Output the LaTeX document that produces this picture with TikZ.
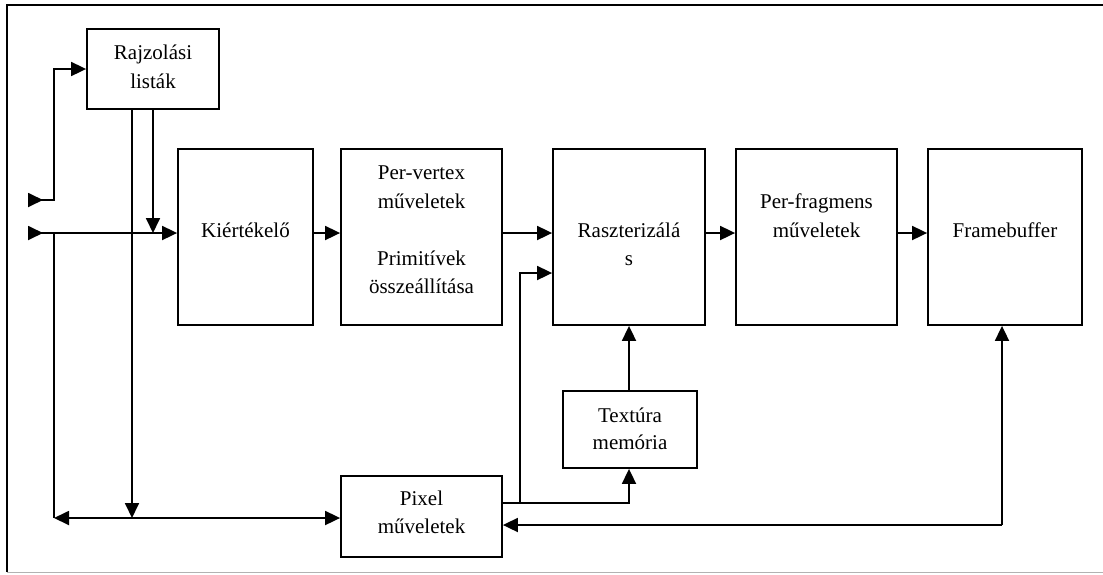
\documentclass[tikz,border=0pt]{standalone}
\usepackage{fontspec}
\setmainfont{Liberation Serif}
\usetikzlibrary{arrows.meta}
\begin{document}
\begin{tikzpicture}[x=1pt,y=-1pt,
  box/.style={draw, line width=1.8pt, inner sep=0pt},
  lbl/.style={inner sep=0pt, anchor=base, font=\fontsize{21}{28.5}\selectfont},
  conn/.style={line width=1.8pt},
  arr/.style={conn, -{Triangle[length=15pt,width=14pt]}},
  dblarr/.style={conn, {Triangle[length=15pt,width=14pt]}-{Triangle[length=15pt,width=14pt]}}]
\useasboundingbox (0,0) rectangle (1103,574);

% page frame
\draw[line width=1.8pt] (1103,5) -- (7,5) -- (7,572);
\draw[black!30, line width=1pt] (7,572) -- (1103,572);

% blocks
\node[box, minimum width=132pt, minimum height=80pt]  (rl)    at (153,69)      {};
\node[box, minimum width=135pt, minimum height=176pt] (kiert) at (245.5,237)   {};
\node[box, minimum width=161pt, minimum height=176pt] (pv)    at (421.5,237)   {};
\node[box, minimum width=152pt, minimum height=176pt] (rasz)  at (629,237)     {};
\node[box, minimum width=161pt, minimum height=176pt] (pf)    at (816.5,237)   {};
\node[box, minimum width=154pt, minimum height=176pt] (fb)    at (1005,237)    {};
\node[box, minimum width=134pt, minimum height=77pt]  (tex)   at (630,429.5)   {};
\node[box, minimum width=161pt, minimum height=81pt]  (pix)   at (421.5,516.5) {};

% block texts
\node[lbl] (rl-a) at (153,59) {Rajzolási};
\node[lbl] (rl-b) at (153,88) {listák};
\node[lbl] (kiert-a) at (245.5,237) {Kiértékelő};
\node[lbl] (pv-a) at (421.5,179) {Per-vertex};
\node[lbl] (pv-b) at (421.5,208) {műveletek};
\node[lbl] (pv-c) at (421.5,265) {Primitívek};
\node[lbl] (pv-d) at (421.5,293) {összeállítása};
\node[lbl] (rasz-a) at (629,237) {Raszterizálá};
\node[lbl] (rasz-b) at (629,265) {s};
\node[lbl] (pf-a) at (816.5,208) {Per-fragmens};
\node[lbl] (pf-b) at (816.5,237) {műveletek};
\node[lbl] (fb-a) at (1005,237) {Framebuffer};
\node[lbl] (tex-a) at (630,422) {Textúra};
\node[lbl] (tex-b) at (630,449) {memória};
\node[lbl] (pix-a) at (421.5,505) {Pixel};
\node[lbl] (pix-b) at (421.5,533) {műveletek};

% inputs and junction points
\coordinate (in1) at (28,200);
\coordinate (in2) at (28,233);
\coordinate (j1) at (54,233);
\coordinate (j2) at (54,518);
\coordinate (p1) at (520,503);
\coordinate (p2) at (629,503);
\coordinate (p3) at (520,273);
\coordinate (f1) at (1002,525);

% list inputs
\draw[arr] (in1) -- ++(15,0);
\draw[arr] (in1) -- (54,200) |- (rl.west);
\draw[arr] (in2) -- ++(15,0);
\draw[arr] (in2) -- (in2 -| kiert.west);
\draw[conn] (j1) -- (j2);
\draw[dblarr] (j2) -- (j2 -| pix.west);

% display list outputs
\draw[arr] (rl.south -| 132,0) -- (132,518);
\draw[arr] (rl.south -| 153,0) -- (153,233);

% main pipeline
\draw[arr] (kiert.east |- in2) -- (pv.west |- in2);
\draw[arr] (pv.east |- in2) -- (rasz.west |- in2);
\draw[arr] (rasz.east |- in2) -- (pf.west |- in2);
\draw[arr] (pf.east |- in2) -- (fb.west |- in2);

% pixel operations paths
\draw[arr] (pix.east |- p1) -- (p2) -- (p2 |- tex.south);
\draw[arr] (p1) -- (p3) -- (p3 -| rasz.west);
\draw[arr] (tex.north -| p2) -- (p2 |- rasz.south);

% framebuffer feedback
\draw[arr] (f1) -- (f1 |- fb.south);
\draw[arr] (f1) -- (f1 -| pix.east);
\end{tikzpicture}
\end{document}
